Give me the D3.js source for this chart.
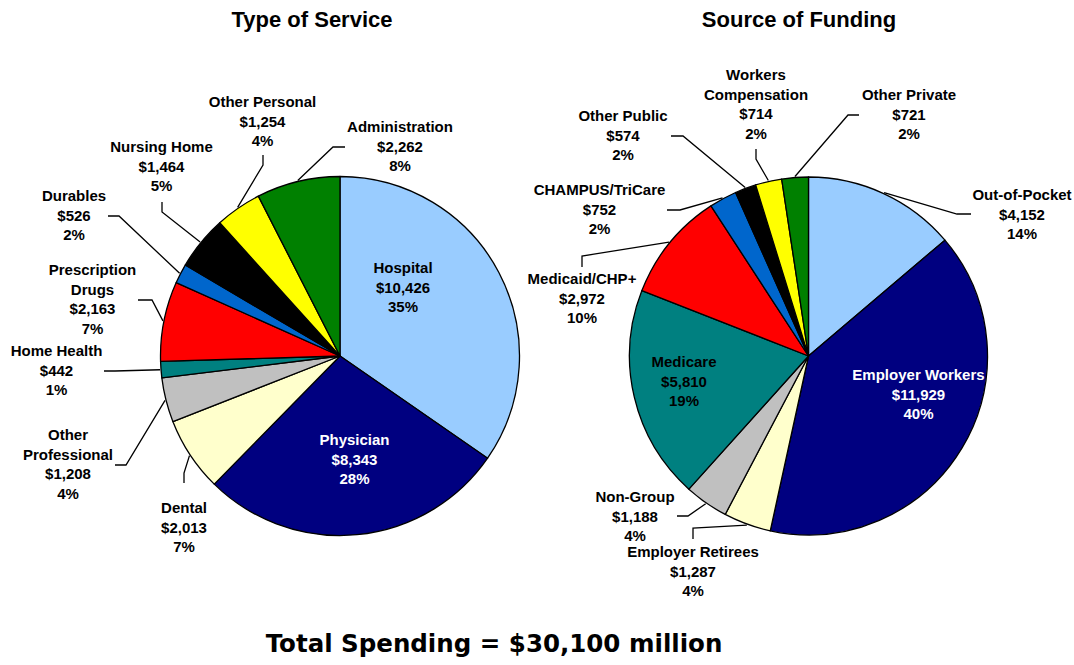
<!DOCTYPE html>
<html>
<head>
<meta charset="utf-8">
<script src="https://cdn.jsdelivr.net/npm/d3@7"></script>
<style>
  body { margin: 0; background: #fff; }
  svg { display: block; }
</style>
</head>
<body>
<svg id="chart" width="1074" height="665"></svg>
<script>
// Health spending by type of service and by source of funding ($ millions)
const serviceCategories = ["Hospital", "Physician", "Dental", "Other\nProfessional", "Home Health",
  "Prescription\nDrugs", "Durables", "Nursing Home", "Other Personal", "Administration"];
const serviceValues = [10426, 8343, 2013, 1208, 442, 2163, 526, 1464, 1254, 2262];

const fundingCategories = ["Out-of-Pocket", "Employer Workers", "Employer Retirees", "Non-Group", "Medicare",
  "Medicaid/CHP+", "CHAMPUS/TriCare", "Other Public", "Workers\nCompensation", "Other Private"];
const fundingValues = [4152, 11929, 1287, 1188, 5810, 2972, 752, 574, 714, 721];

const totalSpending = 30100;

// Slice fills, shared by both pies (same order of slots)
const sliceColors = ["#99CCFF", "#000080", "#FFFFCC", "#C0C0C0", "#008080",
  "#FF0000", "#0066CC", "#000000", "#FFFF00", "#008000"];
const labelColors = ["#000", "#fff", "#000", "#000", "#000", "#000", "#000", "#000", "#000", "#000"];

// Label placement: text anchor (first baseline) and leader start/elbow
const serviceLayout = [
  { x: 403, y: 273 },
  { x: 354.5, y: 445 },
  { x: 184, y: 513, leader: [[184, 483], [184, 473]] },
  { x: 68, y: 440, leader: [[115, 465], [126, 465]] },
  { x: 56.5, y: 356, leader: [[104, 371], [115, 371]] },
  { x: 92.5, y: 275, leader: [[138, 300], [152, 300]] },
  { x: 74, y: 201, leader: [[108, 216], [119, 216]] },
  { x: 161.5, y: 152, leader: [[162, 202], [162, 212]] },
  { x: 262.5, y: 107, leader: [[263, 155], [263, 165]] },
  { x: 400, y: 132, leader: [[345, 147], [333, 147]] }
];
const fundingLayout = [
  { x: 1022, y: 200, leader: [[971, 214], [957, 214]] },
  { x: 918.5, y: 380 },
  { x: 693, y: 557, leader: [[693, 539], [693, 528]] },
  { x: 635, y: 502, leader: [[677, 516], [688, 516]] },
  { x: 684, y: 367 },
  { x: 582, y: 284, leader: [[582, 267], [582, 256]] },
  { x: 599.5, y: 195, leader: [[667, 210], [680, 210]] },
  { x: 623, y: 121, leader: [[671, 136], [683, 136]] },
  { x: 756, y: 80, leader: [[756, 149], [756, 159]] },
  { x: 909, y: 100, leader: [[859, 115], [848, 115]] }
];

const svg = d3.select("#chart");
const labelFont = "'Liberation Sans', Arial, sans-serif";
const lineGap = 19.7;
const money = d3.format("$,");

function drawPie(opts) {
  const { cx, cy, r, title, titleX, categories, values, layout } = opts;
  const sum = d3.sum(values);
  const pie = d3.pie().sort(null).value(d => d)(values);
  const arc = d3.arc().innerRadius(0).outerRadius(r);
  const edge = d3.arc().innerRadius(r + 1).outerRadius(r + 1);

  svg.append("text")
    .attr("x", titleX).attr("y", 27)
    .attr("text-anchor", "middle")
    .style("font-family", labelFont).style("font-weight", "bold").style("font-size", "22px")
    .text(title);

  const g = svg.append("g").attr("transform", `translate(${cx},${cy})`);
  g.selectAll("path.slice").data(pie).join("path")
    .attr("class", "slice")
    .attr("d", arc)
    .attr("fill", (d, i) => sliceColors[i])
    .attr("stroke", "#000").attr("stroke-width", 1.3).attr("stroke-linejoin", "round");

  // leader lines from label to slice edge
  pie.forEach((d, i) => {
    const L = layout[i];
    if (!L.leader) return;
    const [ex, ey] = edge.centroid(d);
    const pts = [L.leader[0], L.leader[1], [cx + ex, cy + ey]];
    svg.append("path")
      .attr("d", d3.line()(pts))
      .attr("fill", "none").attr("stroke", "#000").attr("stroke-width", 1.3);
  });

  // labels: name lines, value, share
  pie.forEach((d, i) => {
    const L = layout[i];
    const lines = categories[i].split("\n")
      .concat([money(values[i]), Math.round(values[i] / sum * 100) + "%"]);
    const t = svg.append("text")
      .attr("text-anchor", "middle")
      .style("font-family", labelFont).style("font-weight", "bold").style("font-size", "15px")
      .attr("fill", labelColors[i]);
    lines.forEach((s, k) => {
      t.append("tspan").attr("x", L.x).attr("y", L.y + k * lineGap).text(s);
    });
  });
}

drawPie({ cx: 340, cy: 356, r: 179.5, title: "Type of Service", titleX: 312,
  categories: serviceCategories, values: serviceValues, layout: serviceLayout });
drawPie({ cx: 808.5, cy: 356, r: 179, title: "Source of Funding", titleX: 799,
  categories: fundingCategories, values: fundingValues, layout: fundingLayout });

svg.append("text")
  .attr("x", 494).attr("y", 652)
  .attr("text-anchor", "middle")
  .style("font-family", "'DejaVu Sans', Verdana, sans-serif").style("font-weight", "bold").style("font-size", "24.5px")
  .text(`Total Spending = ${money(totalSpending)} million`);
</script>
</body>
</html>
